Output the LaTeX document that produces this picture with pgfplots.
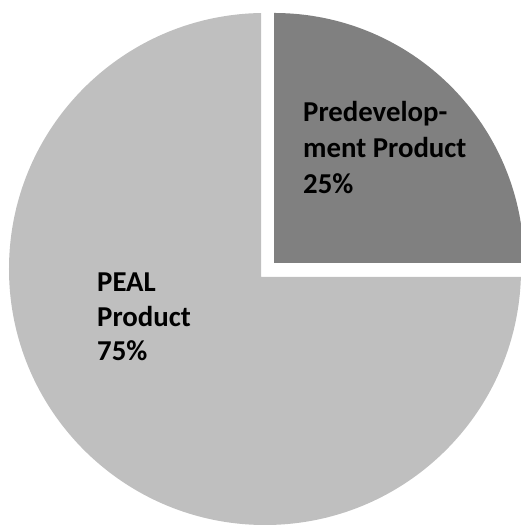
\documentclass[border=0pt]{standalone}
\usepackage{fontspec}
\setmainfont{Carlito}
\usepackage{pgfplots}
\pgfplotsset{compat=1.18}
\definecolor{lightslice}{HTML}{BFBFBF}
\definecolor{darkslice}{HTML}{808080}
% shares (percent)
\def\shareA{25}% Predevelopment Product
\def\shareB{75}% PEAL Product
\begin{document}
\begin{tikzpicture}
\begin{axis}[x=1bp, y=1bp, xmin=0, xmax=521, ymin=0, ymax=525,
  hide axis, clip=false, scale only axis]
  % PEAL Product (75%)
  \pgfmathsetmacro{\angB}{90+3.6*\shareB}
  \begin{scope}
    \clip (axis cs:0,0) -- (axis cs:521,0) -- (axis cs:521,248) -- (axis cs:261,248)
          -- (axis cs:261,525) -- (axis cs:0,525) -- cycle;
    \fill[lightslice] (axis cs:265,256) circle[radius=256bp];
  \end{scope}
  % Predevelopment Product (25%)
  \begin{scope}
    \clip (axis cs:274,262) rectangle (axis cs:521,525);
    \fill[darkslice] (axis cs:274,262) circle[radius=250bp];
  \end{scope}
  \addplot[draw=none] coordinates {(0,0) (521,525)};
  \begin{scope}[every node/.style={anchor=base west, inner sep=0pt,
      font=\fontsize{28.8bp}{35bp}\selectfont\bfseries}]
    \node at (axis cs:303,403) {Predevelop-};
    \node at (axis cs:303,367) {ment Product};
    \node at (axis cs:303,331) {\shareA\%};
    \node at (axis cs:97,233) {PEAL};
    \node at (axis cs:97,198) {Product};
    \node at (axis cs:97,164) {\shareB\%};
  \end{scope}
\end{axis}
\end{tikzpicture}
\end{document}
